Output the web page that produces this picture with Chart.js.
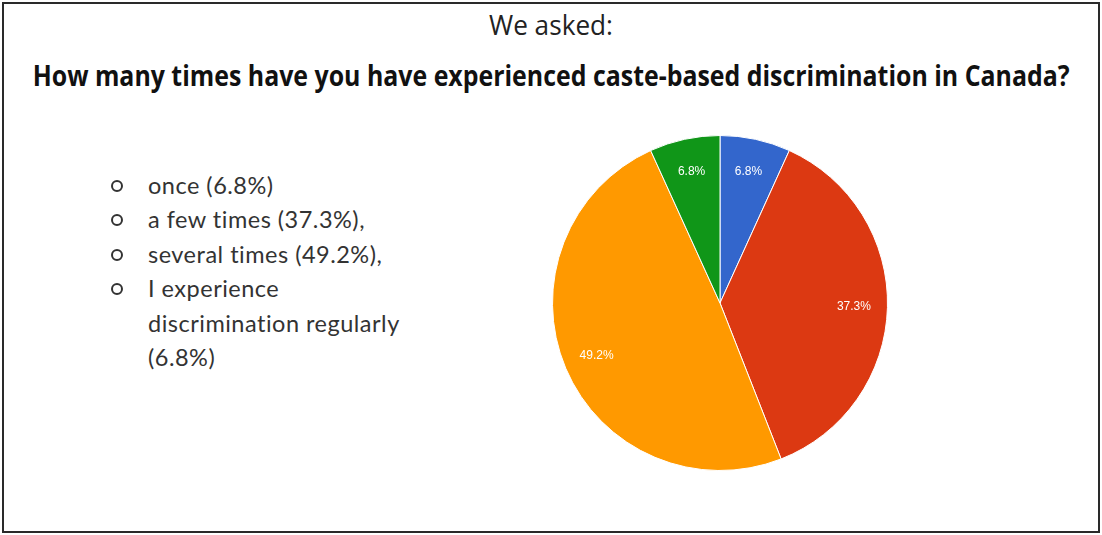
<!DOCTYPE html>
<html>
<head>
<meta charset="utf-8">
<script src="https://cdn.jsdelivr.net/npm/chart.js@4.4.1/dist/chart.umd.min.js"></script>
<style>
  html, body { margin: 0; padding: 0; background: #fff; overflow: hidden; }
  #frame { position: absolute; left: 2px; top: 2px; width: 1094px; height: 527px; border: 2px solid #2a2a2a; background: #fff; }
  .hd { position: absolute; left: -449px; width: 2000px; text-align: center; white-space: nowrap; }
  .hd span { display: inline-block; transform-origin: 50% 50%; }
  #sub { top: 6px; font-family: "Open Sans", sans-serif; font-size: 27px; color: #222; }
  #title { top: 56px; font-family: "Open Sans", sans-serif; font-weight: bold; font-size: 28px; color: #111; }
  #legend { position: absolute; left: 108px; top: 168px; font-family: Lato, "Open Sans", sans-serif; font-size: 23.5px; letter-spacing: 0.5px; color: #333; line-height: 34.4px; }
  #legend .row { position: relative; padding-left: 40px; white-space: pre-line; }
  #legend .dot { position: absolute; left: 3px; top: 12px; width: 8px; height: 8px; border: 2px solid #333; border-radius: 50%; }
  #wrap { position: absolute; left: 552px; top: 135px; width: 336px; height: 336px; }
</style>
</head>
<body>
<div id="frame"></div>
<div id="sub" class="hd"><span>We asked:</span></div>
<div id="title" class="hd"><span>How many times have you have experienced caste-based discrimination in Canada?</span></div>
<div id="legend"></div>
<div id="wrap"><canvas id="c"></canvas></div>
<script>
const categories = ["once", "a few times", "several times", "I experience discrimination regularly"];
const values = [6.8, 37.3, 49.2, 6.8];
const sliceLabels = ["6.8%", "37.3%", "49.2%", "6.8%"];
const legendTexts = ["once (6.8%)", "a few times (37.3%),", "several times (49.2%),", "I experience\ndiscrimination regularly\n(6.8%)"];
const colors = ["#3366cc", "#dc3912", "#ff9900", "#109618"];

const leg = document.getElementById('legend');
legendTexts.forEach(t => {
  const r = document.createElement('div');
  r.className = 'row';
  const d = document.createElement('span');
  d.className = 'dot';
  r.appendChild(d);
  r.appendChild(document.createTextNode(t));
  leg.appendChild(r);
});

// condense header texts to the widths seen in the reference
function fit(id, target) {
  const s = document.querySelector('#' + id + ' span');
  const w = s.getBoundingClientRect().width;
  s.style.transform = 'scaleX(' + (target / w) + ')';
}
fit('sub', 124);
fit('title', 1037);

const labelPlugin = {
  id: 'sliceLabels',
  afterDatasetsDraw(chart) {
    const ctx = chart.ctx;
    const meta = chart.getDatasetMeta(0);
    ctx.save();
    ctx.fillStyle = '#fff';
    ctx.font = '12px "Liberation Sans", Arial, sans-serif';
    ctx.textAlign = 'center';
    ctx.textBaseline = 'middle';
    meta.data.forEach((arc, i) => {
      const p = arc.getProps(['x', 'y', 'startAngle', 'endAngle', 'outerRadius'], true);
      const mid = (p.startAngle + p.endAngle) / 2;
      const r = p.outerRadius * 0.8;
      ctx.fillText(sliceLabels[i], p.x + Math.cos(mid) * r, p.y + Math.sin(mid) * r);
    });
    ctx.restore();
  }
};

new Chart(document.getElementById('c'), {
  type: 'pie',
  data: {
    labels: categories,
    datasets: [{ data: values, backgroundColor: colors, borderColor: '#ffffff', borderWidth: 1 }]
  },
  options: {
    responsive: true,
    maintainAspectRatio: false,
    animation: false,
    layout: { padding: 0 },
    plugins: { legend: { display: false }, tooltip: { enabled: false } }
  },
  plugins: [labelPlugin]
});
</script>
</body>
</html>
